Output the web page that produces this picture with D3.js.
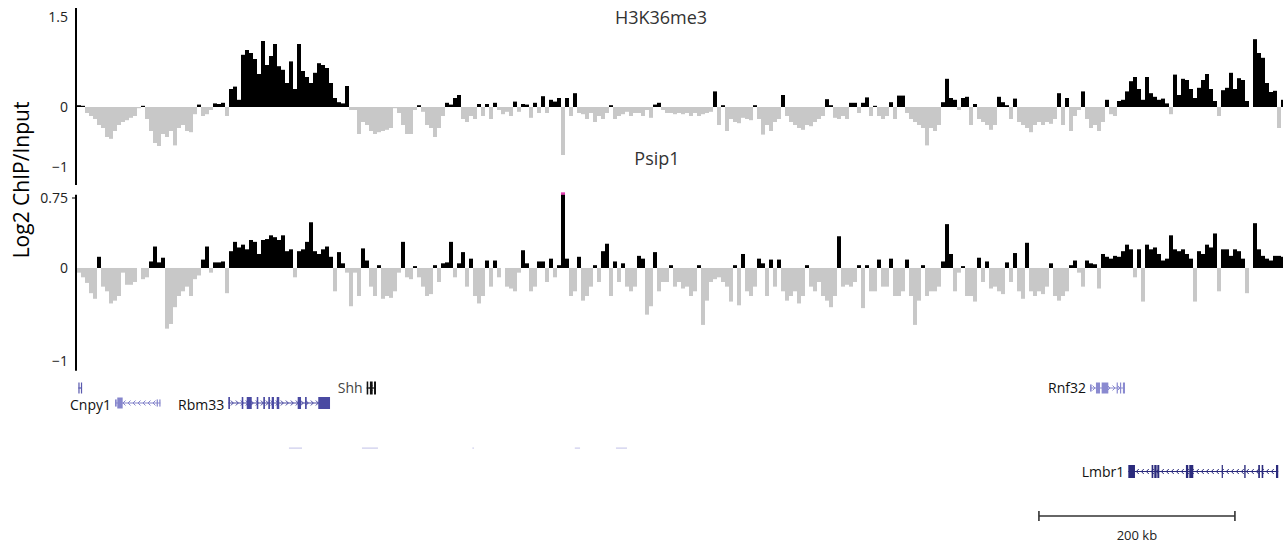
<!DOCTYPE html>
<html><head><meta charset="utf-8">
<script src="https://cdn.jsdelivr.net/npm/d3@7"></script>
<style>
body{margin:0;background:#fff}
svg{display:block}
text{font-family:"Open Sans","Noto Sans",sans-serif}
</style>
</head><body>
<svg id="c" width="1283" height="545"></svg>
<script>
// ---------- DATA ----------
// log2 ChIP/Input per genomic bin (~4 kb), left to right
const h3k36me3 = [
 0.03,0.02,-0.1,-0.15,-0.2,-0.3,-0.35,-0.5,-0.53,-0.4,
 -0.3,-0.25,-0.22,-0.18,-0.15,-0.02,0.02,-0.2,-0.4,-0.6,
 -0.65,-0.45,-0.5,-0.4,-0.64,-0.35,-0.3,-0.4,-0.42,-0.12,
 0.04,-0.15,-0.12,-0.05,0.06,0.05,0.07,-0.15,0.3,0.34,
 0.12,0.87,0.95,0.9,0.8,0.55,1.1,0.7,0.85,1.05,
 0.68,0.62,0.4,0.76,0.3,1.05,0.6,0.5,0.4,0.57,
 0.73,0.7,0.65,0.4,0.15,0.08,0.06,0.35,-0.05,-0.05,
 -0.45,-0.25,-0.3,-0.4,-0.45,-0.42,-0.4,-0.38,-0.35,-0.02,
 -0.1,-0.3,-0.45,-0.45,-0.05,0.03,-0.08,-0.3,-0.35,-0.5,
 -0.35,-0.15,0.07,0.04,0.15,0.2,-0.2,-0.25,-0.15,-0.2,
 0.05,-0.15,0.05,-0.2,0.07,-0.05,-0.12,-0.08,-0.15,0.09,
 -0.08,0.05,0.04,-0.18,0.07,-0.1,0.18,-0.1,0.12,0.09,
 0.15,-0.8,0.15,-0.15,0.23,-0.1,-0.12,-0.2,-0.1,-0.25,
 -0.15,-0.2,-0.1,0.03,-0.2,-0.15,-0.12,-0.08,-0.15,-0.1,
 -0.1,-0.15,-0.05,-0.18,0.04,0.07,-0.05,-0.1,-0.1,-0.12,
 -0.1,-0.12,-0.1,-0.15,-0.1,-0.15,-0.12,-0.1,-0.08,0.26,
 -0.3,0.03,-0.4,-0.2,-0.25,-0.27,-0.18,-0.2,-0.22,0.03,
 -0.2,-0.46,-0.3,-0.4,-0.25,-0.2,0.2,-0.15,-0.25,-0.3,
 -0.35,-0.38,-0.3,-0.32,-0.25,-0.2,-0.15,0.13,0.03,-0.18,
 -0.2,-0.15,-0.2,0.07,0.07,-0.1,0.07,0.16,-0.15,0.02,
 -0.15,-0.2,-0.15,0.08,-0.2,0.19,0.19,-0.1,-0.2,-0.25,
 -0.3,-0.35,-0.64,-0.35,-0.4,-0.3,0.08,0.47,0.15,0.12,
 -0.05,0.15,0.17,-0.3,0.05,-0.2,-0.25,-0.3,-0.38,-0.3,
 0.17,0.08,0.03,-0.2,0.14,-0.25,-0.3,-0.35,-0.42,-0.3,
 -0.25,-0.3,-0.25,-0.28,-0.2,0.23,-0.3,0.15,-0.4,-0.15,
 -0.05,0.26,-0.2,-0.35,-0.3,-0.4,-0.25,0.12,-0.12,-0.15,
 0.1,0.12,0.26,0.43,0.5,0.3,0.12,0.5,0.23,0.17,
 0.12,0.14,0.06,-0.12,0.54,0.2,0.47,0.45,0.3,0.15,
 0.32,0.45,0.55,0.3,0.1,-0.15,0.28,0.32,0.57,0.3,
 0.48,0.45,0.1,0,1.13,0.9,0.82,0.4,0.25,0.27,
 -0.35,0.12
];
const psip1 = [
 -0.05,-0.1,-0.16,-0.27,-0.33,0.12,-0.2,-0.25,-0.38,-0.35,
 -0.3,-0.05,-0.18,-0.18,-0.15,0,-0.12,-0.1,0.07,0.23,
 0.06,0.11,-0.65,-0.6,-0.42,-0.3,-0.25,-0.2,-0.3,-0.12,
 -0.08,0.09,0.23,-0.05,0.06,0.06,0.07,-0.27,0.18,0.28,
 0.22,0.25,0.2,0.3,0.28,0.15,0.3,0.31,0.35,0.33,
 0.3,0.35,0.18,0.2,-0.1,0.18,0.2,0.28,0.49,0.18,
 0.15,0.2,0.23,0.12,-0.25,0.17,0.05,-0.05,-0.41,-0.05,
 -0.3,0.21,0.08,-0.2,-0.3,0.03,-0.33,-0.3,-0.32,-0.25,
 -0.05,0.28,-0.1,-0.12,0.02,-0.1,-0.2,-0.3,-0.28,0.03,
 -0.15,0.05,0.06,0.28,-0.1,0.05,0.17,-0.2,0.1,-0.3,
 -0.38,-0.3,0.08,-0.2,0.08,-0.1,0,-0.2,-0.22,-0.25,
 -0.05,0.19,0.05,-0.25,-0.2,0.07,0.07,-0.15,0.1,-0.1,
 0.03,0.8,0.1,-0.3,-0.25,0.12,-0.35,-0.3,-0.2,0.03,
 -0.15,0.18,0.26,-0.3,0.07,-0.15,0.05,-0.2,-0.25,-0.2,
 0.13,0.1,-0.5,-0.41,0.17,-0.25,-0.15,-0.15,0.03,-0.2,
 -0.15,-0.22,-0.2,-0.3,-0.25,0.03,-0.61,-0.35,-0.15,-0.12,
 -0.1,-0.15,-0.2,-0.36,0.03,-0.4,0.15,-0.25,-0.3,-0.2,
 0.1,0.05,-0.3,0.09,-0.2,0.09,-0.25,-0.35,-0.3,-0.25,
 -0.38,-0.3,0.03,-0.2,-0.25,-0.15,-0.3,-0.35,-0.42,-0.3,
 0.34,-0.2,-0.18,-0.2,-0.15,0.03,-0.43,0.03,-0.25,-0.25,
 0.09,-0.2,-0.2,0.1,-0.3,-0.3,-0.25,0.09,-0.3,-0.61,
 -0.35,0.03,-0.3,-0.25,-0.25,-0.2,0.07,0.47,0.15,-0.25,
 -0.05,0.02,-0.3,-0.3,-0.36,0.11,-0.15,0.07,-0.22,-0.2,
 -0.25,-0.28,0.06,-0.15,0.16,-0.25,-0.33,0.27,-0.25,-0.3,
 -0.25,-0.28,-0.2,0.05,-0.3,-0.35,-0.3,-0.25,0.03,0.08,
 -0.05,-0.2,0.08,0.05,0.04,-0.22,0.15,0.12,0.1,0.13,
 0.12,0.18,0.25,0.2,-0.1,0.2,-0.36,0.25,0.2,0.22,
 0.15,0.08,0.1,0.35,0.2,0.18,0.2,0.15,0.1,-0.36,
 0.18,0.15,0.25,0.22,0.37,-0.25,0.2,0.2,0.13,0.2,
 0.18,0.1,-0.27,0,0.48,0.2,0.13,0.1,0.08,0.13,
 0.13,0.12
];
const trackNames = ["H3K36me3", "Psip1"];
const h3Ticks = [1.5, 0, -1];
const h3Domain = [-1, 1.5];
const psipTicks = [0.75, 0, -1];
const psipDomain = [-1, 0.75];
const yLabel = "Log2 ChIP/Input";
const regionKb = 1232.7;               // span of the window in kb
// genes: exons as [startKb, endKb, coding(1)/utr(0)]
const geneNames  = ["", "Cnpy1", "Rbm33", "Shh", "Rnf32", "Lmbr1"];
const geneStrand = [1, -1, 1, -1, 1, -1];
const geneRow    = [0, 1, 1, 0, 0, 2];
const geneExons  = [
 [[1.4,2.4,1],[4,5,1]],
 [[38.8,40.5,0],[41.1,46.6,1],[81.3,82.3,0],[84,85,0]],
 [[154.4,156.1,1],[168.1,169.7,1],[173.2,178.3,1],[183.4,185,1],[190.1,191.8,1],[195.2,196.9,1],[198.7,201,1],[203.8,206.4,1],[225.2,228.6,1],[232.7,234.4,1],[246.2,258.2,1]],
 [[295.6,297.2,1],[298.9,301.7,1],[303.1,305.1,1]],
 [[1033.7,1035.4,0],[1039.8,1043.9,1],[1045.6,1052.4,1],[1060.9,1061.9,1],[1064.3,1065.3,1],[1067.3,1069.4,1]],
 [[1072.8,1079.6,1],[1096.6,1098.3,1],[1099.3,1101.7,1],[1102.4,1104.4,1],[1131.6,1134,1],[1135,1139.1,1],[1168.1,1169.1,1],[1191.1,1192.5,1],[1205.4,1207.1,1],[1208.9,1210.5,1],[1223.5,1225.8,1]]
];
const faintFeatures = [[216.3,229.6],[290.8,307.1],[403.5,404.6],[508,513.3],[550,561.2]];
const scaleBarStartKb = 981.6;
const scaleBarKb = 200;
const scaleBarLabel = "200 kb";

// ---------- DRAW ----------
const svg = d3.select("#c");
const N = h3k36me3.length;
const x = d3.scaleBand().domain(d3.range(N)).range([77, 77 + 4 * N]).paddingInner(0);
const xg = d3.scaleLinear().domain([0, regionKb]).range([77, 1285]);

const tracks = [
  {name: trackNames[0], data: h3k36me3, y: d3.scaleLinear().domain(h3Domain).range([167, 17]), ticks: h3Ticks,
   axisTop: 1.65, axisBottom: -1.3, titleX: 661, titleY: 24},
  {name: trackNames[1], data: psip1, y: d3.scaleLinear().domain(psipDomain).range([361.3, 198]), ticks: psipTicks,
   axisTop: 0.785, axisBottom: -1.1, titleX: 657, titleY: 165}
];

tracks.forEach(t => {
  const g = svg.append("g");
  const y0 = t.y(0);
  const maxV = t.y.domain()[1];
  g.selectAll("rect.bar").data(t.data).join("rect")
    .attr("class", "bar")
    .attr("x", (d, i) => x(i))
    .attr("width", x.bandwidth())
    .attr("y", d => d >= 0 ? t.y(d) : y0)
    .attr("height", d => Math.abs(t.y(d) - y0))
    .attr("fill", d => d >= 0 ? "#000" : "#c8c8c8");
  // clipped-value caps
  g.selectAll("rect.cap").data(t.data.map((d, i) => [d, i]).filter(p => p[0] > maxV)).join("rect")
    .attr("class", "cap")
    .attr("x", p => x(p[1]))
    .attr("width", x.bandwidth())
    .attr("y", p => t.y(p[0]) - 1)
    .attr("height", 2.5)
    .attr("fill", "#e040b0");
  // axis line
  g.append("line")
    .attr("x1", 76).attr("x2", 76)
    .attr("y1", t.y(t.axisTop)).attr("y2", t.y(t.axisBottom))
    .attr("stroke", "#000").attr("stroke-width", 2);
  // tick labels
  const ax = d3.axisLeft(t.y).tickValues(t.ticks).tickSize(0).tickPadding(8).tickFormat(d3.format(""));
  const axg = g.append("g").attr("transform", "translate(76,0)").call(ax);
  axg.select(".domain").remove();
  axg.selectAll("text").attr("font-size", 14).attr("fill", "#222")
     .style("font-family", '"Open Sans","Noto Sans",sans-serif');
  // title
  g.append("text").attr("x", t.titleX).attr("y", t.titleY).attr("text-anchor", "middle")
    .attr("font-size", 18).attr("fill", "#333").text(t.name);
});

// small tick at 0.75
svg.append("line").attr("x1", 72).attr("x2", 76).attr("y1", tracks[1].y(0.75)).attr("y2", tracks[1].y(0.75))
   .attr("stroke", "#000").attr("stroke-width", 1);

// y label
svg.append("text").attr("transform", "translate(29,180) rotate(-90)").attr("text-anchor", "middle")
  .attr("font-size", 21).attr("fill", "#000").text(yLabel);

// ---------- GENES ----------
const rowY = [388, 403, 471.5];
const geneStyle = {
  "":      {color: "#5a5aae", h: 11},
  "Cnpy1": {color: "#8585cc", h: 11},
  "Rbm33": {color: "#4a4aa2", h: 12},
  "Shh":   {color: "#111111", h: 13},
  "Rnf32": {color: "#8a8ad0", h: 11},
  "Lmbr1": {color: "#2a2a7c", h: 13}
};
const gg = svg.append("g");
geneNames.forEach((name, gi) => {
  const st = geneStyle[name];
  const ex = geneExons[gi];
  const y = rowY[geneRow[gi]];
  const x0 = xg(ex[0][0]), x1 = xg(ex[ex.length - 1][1]);
  gg.append("line").attr("x1", x0).attr("x2", x1).attr("y1", y).attr("y2", y)
    .attr("stroke", st.color).attr("stroke-width", 1.2);
  const dir = geneStrand[gi];
  for (let cx = x0 + 4; cx < x1 - 3; cx += 5) {
    const d = dir > 0
      ? `M${cx - 1.5},${y - 2.5}L${cx + 1},${y}L${cx - 1.5},${y + 2.5}`
      : `M${cx + 1.5},${y - 2.5}L${cx - 1},${y}L${cx + 1.5},${y + 2.5}`;
    gg.append("path").attr("d", d).attr("fill", "none").attr("stroke", st.color).attr("stroke-width", 1);
  }
  ex.forEach(e => {
    const h = e[2] ? st.h : st.h * 0.65;
    gg.append("rect").attr("x", xg(e[0])).attr("width", Math.max(1.2, xg(e[1]) - xg(e[0])))
      .attr("y", y - h / 2).attr("height", h).attr("fill", st.color);
  });
  if (name) {
    gg.append("text").attr("x", x0 - 4).attr("y", y + (geneRow[gi] === 1 ? 7 : 5))
      .attr("text-anchor", "end").attr("font-size", 14)
      .attr("fill", name === "Shh" ? "#444" : "#111").text(name);
  }
});
// faint features
gg.selectAll("rect.faint").data(faintFeatures).join("rect").attr("class", "faint")
  .attr("x", d => xg(d[0])).attr("width", d => Math.max(1.5, xg(d[1]) - xg(d[0])))
  .attr("y", 447.5).attr("height", 1.2).attr("fill", "#8a8ad0").attr("opacity", 0.45);

// ---------- SCALE BAR ----------
const sb = svg.append("g");
const sx0 = xg(scaleBarStartKb), sx1 = xg(scaleBarStartKb + scaleBarKb);
sb.append("line").attr("x1", sx0).attr("x2", sx1).attr("y1", 516).attr("y2", 516).attr("stroke", "#333").attr("stroke-width", 1.6);
[sx0, sx1].forEach(v => sb.append("line").attr("x1", v).attr("x2", v).attr("y1", 511).attr("y2", 521).attr("stroke", "#333").attr("stroke-width", 1.6));
sb.append("text").attr("x", (sx0 + sx1) / 2).attr("y", 540).attr("text-anchor", "middle")
  .attr("font-size", 13).attr("fill", "#222").text(scaleBarLabel);
</script>
</body></html>
